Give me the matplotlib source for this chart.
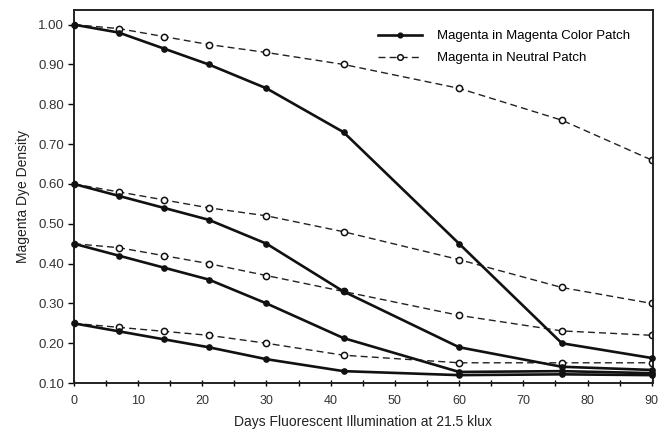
import matplotlib.pyplot as plt
from matplotlib.ticker import MultipleLocator

plt.rcParams['font.family'] = ['Liberation Sans', 'DejaVu Sans']

days = [0, 7, 14, 21, 30, 42, 60, 76, 90]

# magenta dye in magenta colour patch, four starting densities
color_patch = [
    [1.00, 0.98, 0.94, 0.90, 0.84, 0.73, 0.45, 0.20, 0.163],
    [0.60, 0.57, 0.54, 0.51, 0.45, 0.33, 0.19, 0.141, 0.133],
    [0.45, 0.42, 0.39, 0.36, 0.30, 0.213, 0.128, 0.13, 0.125],
    [0.25, 0.23, 0.21, 0.19, 0.16, 0.13, 0.12, 0.122, 0.12],
]

# magenta dye in neutral patch
neutral_patch = [
    [1.00, 0.99, 0.97, 0.95, 0.93, 0.90, 0.84, 0.76, 0.66],
    [0.60, 0.58, 0.56, 0.54, 0.52, 0.48, 0.41, 0.34, 0.30],
    [0.45, 0.44, 0.42, 0.40, 0.37, 0.33, 0.27, 0.231, 0.22],
    [0.25, 0.24, 0.23, 0.22, 0.20, 0.17, 0.151, 0.151, 0.151],
]

labels = ['Magenta in Magenta Color Patch', 'Magenta in Neutral Patch']

fig = plt.figure(figsize=(6.65, 4.29), dpi=100)
ax = fig.add_axes([0.111, 0.107, 0.871, 0.870])

for i, ys in enumerate(neutral_patch):
    ax.plot(days, ys, color='#222222', lw=1.0, ls=(0, (5, 3)),
            marker='o', ms=4.5, mfc='white', mec='#111111', mew=1.1,
            label=labels[1] if i == 0 else None, zorder=2)

for i, ys in enumerate(color_patch):
    ax.plot(days, ys, color='#111111', lw=1.9, marker='o', ms=3.8,
            mfc='#111111', mec='#111111', clip_on=False,
            label=labels[0] if i == 0 else None, zorder=3)

ax.set_xlim(0, 90.2)
ax.set_ylim(0.10, 1.037)
ax.xaxis.set_minor_locator(MultipleLocator(5))
ax.set_xticks(range(0, 91, 10))
ax.set_xticklabels([str(d) for d in range(0, 91, 10)])
ax.set_yticks([0.1 * k for k in range(1, 11)])
ax.set_yticklabels(['%.2f' % (0.1 * k) for k in range(1, 11)])

ax.tick_params(axis='x', which='both', direction='inout', length=5, width=1.0,
               labelsize=9, labelcolor='#333333', pad=6)
ax.tick_params(axis='y', direction='out', length=4, width=1.0,
               labelsize=9.5, labelcolor='#333333', pad=3)
for s in ax.spines.values():
    s.set_linewidth(1.4)
    s.set_color('#222222')

ax.set_xlabel('Days Fluorescent Illumination at 21.5 klux', fontsize=10,
              color='#222222', labelpad=6)
ax.set_ylabel('Magenta Dye Density', fontsize=10, color='#222222', labelpad=6)

handles, labs = ax.get_legend_handles_labels()
order = [labs.index(labels[0]), labs.index(labels[1])]
ax.legend([handles[k] for k in order], [labs[k] for k in order],
          loc='upper left', bbox_to_anchor=(0.516, 0.960), borderaxespad=0,
          frameon=False, fontsize=9.5, handlelength=3.3, handletextpad=1.2,
          labelspacing=0.75, markerscale=0.9)

fig.savefig('out.png', dpi=100)
